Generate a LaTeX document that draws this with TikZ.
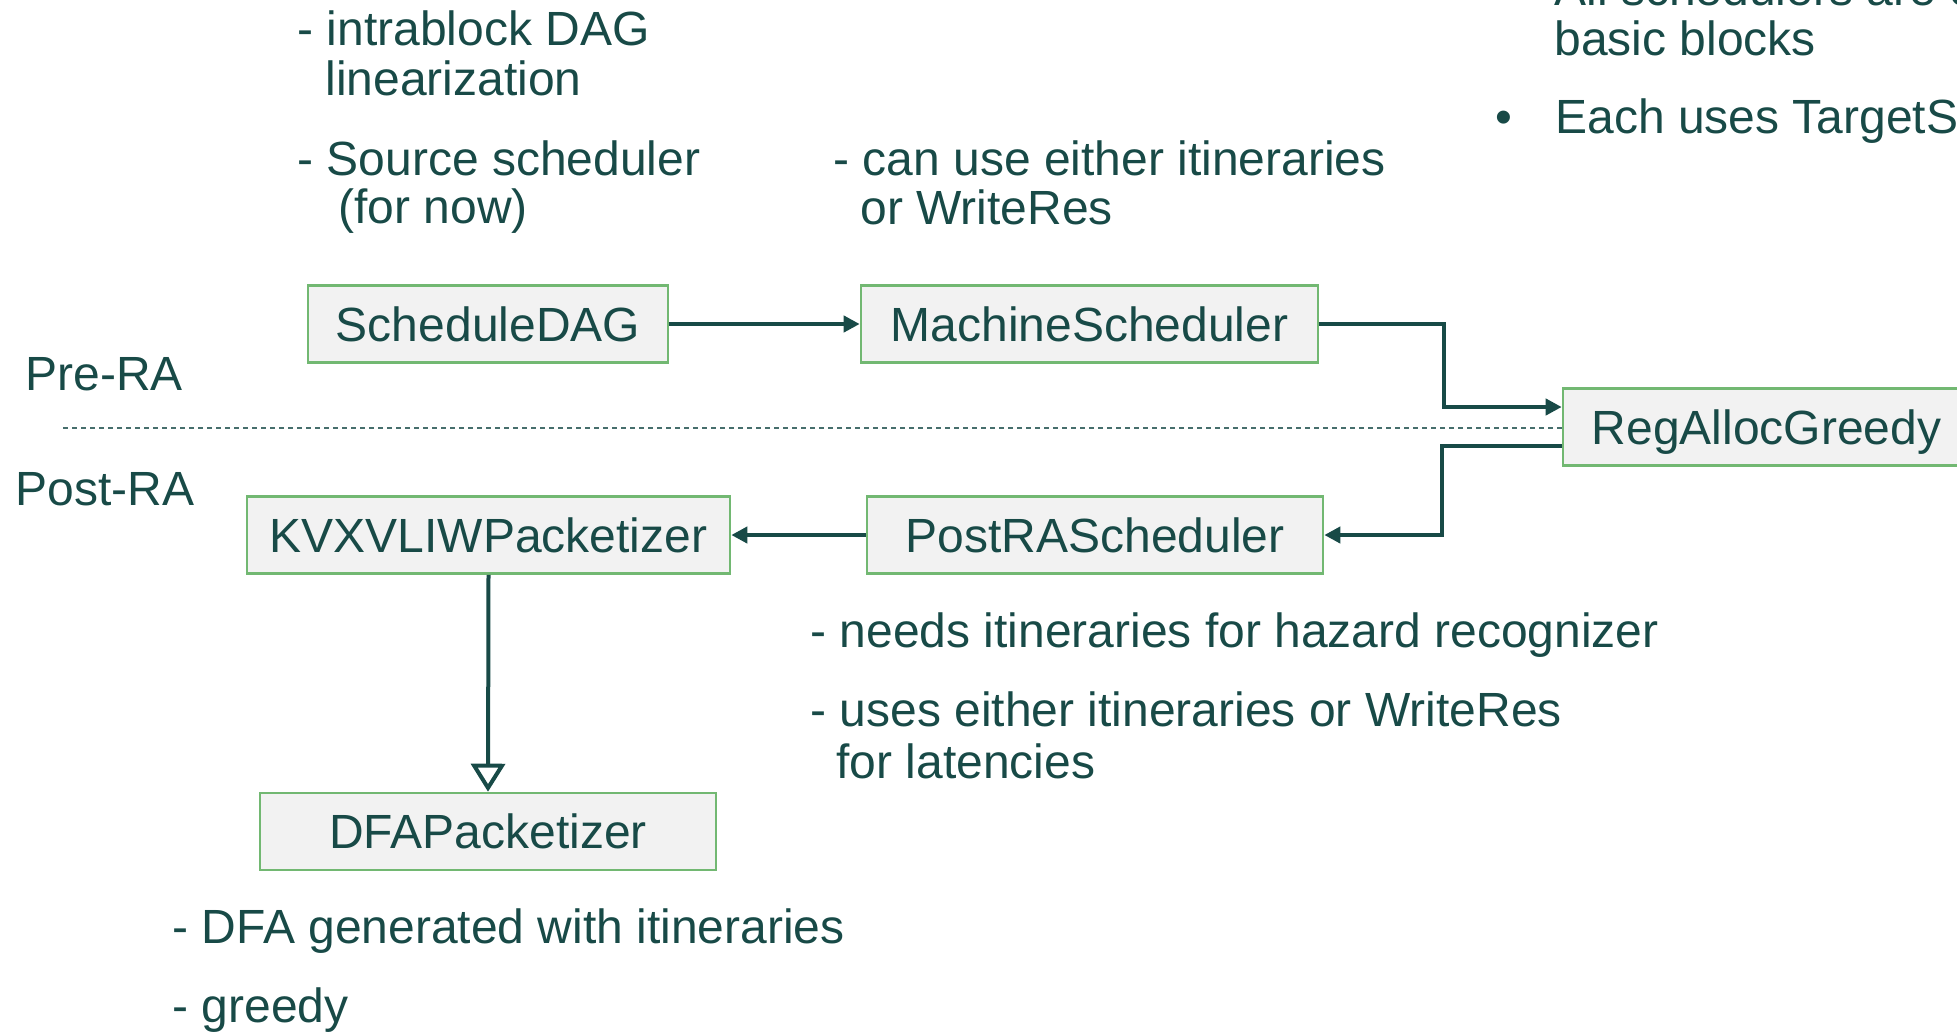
\documentclass[tikz,border=0pt]{standalone}
\usepackage{fontspec}
\setmainfont{Liberation Sans}
\usetikzlibrary{arrows.meta}
\definecolor{ink}{HTML}{184A47}
\definecolor{boxfill}{HTML}{F2F2F2}
\definecolor{boxline}{HTML}{72B872}
\begin{document}
\begin{tikzpicture}[x=0.5pt,y=-0.5pt,
  font=\fontsize{24}{29}\selectfont,
  box/.style={draw=boxline, line width=1.3pt, fill=boxfill, text=ink, inner sep=0pt,
              text height=17.2pt, text depth=0pt, minimum height=38.5pt},
  lbl/.style={anchor=base west, text=ink, inner sep=0pt},
  conn/.style={draw=ink, line width=2pt, -{Triangle[length=8pt,width=8pt]}},
  inh/.style={draw=ink, line width=2pt, -{Triangle[open,length=14pt,width=17pt,fill=white]}},
  sep/.style={draw=ink!80, line width=0.8pt, dash pattern=on 2.5pt off 2pt}]
\useasboundingbox (0,0) rectangle (1957,1034);
\clip (0,0) rectangle (1957,1034);

% text annotations
\node[lbl] (t1) at (297,45) {- intrablock DAG};
\node[lbl] (t2) at (325,95) {linearization};
\node[lbl] (t3) at (297,175) {- Source scheduler};
\node[lbl] (t4) at (338,223) {(for now)};
\node[lbl] (t5) at (833,175) {- can use either itineraries};
\node[lbl] (t6) at (860,224) {or WriteRes};
\node[lbl] (pre) at (25,390) {Pre-RA};
\node[lbl] (post) at (15,505) {Post-RA};
\node[lbl] (n1) at (810,647) {- needs itineraries for hazard recognizer};
\node[lbl] (n2) at (810,726) {- uses either itineraries or WriteRes};
\node[lbl] (n3) at (836,778) {for latencies};
\node[lbl] (d1) at (172,943) {- DFA generated with itineraries};
\node[lbl] (d2) at (172,1022) {- greedy};
\node[lbl] (b0) at (1495,5) {•};
\node[lbl] (r0) at (1554,5) {All schedulers are on};
\node[lbl] (r1) at (1554,55) {basic blocks};
\node[lbl] (b2) at (1495,133) {•};
\node[lbl] (r2) at (1555,133) {Each uses TargetSchedModel};

% boxes
\node[box, minimum width=203.5pt] (reg) at (1766.5,427) {RegAllocGreedy};
\node[box, minimum width=180pt] (sched) at (488,324) {ScheduleDAG};
\node[box, minimum width=228.5pt] (mach) at (1089.5,324) {MachineScheduler};
\node[box, minimum width=228pt] (postra) at (1095,535) {PostRAScheduler};
\node[box, minimum width=241.5pt] (kvx) at (488.5,535) {KVXVLIWPacketizer};
\node[box, minimum width=228pt] (dfa) at (488,831.5) {DFAPacketizer};

% separator
\coordinate (s0) at (63,428);
\draw[sep] (s0) -- (s0 -| reg.west);

% connectors
\coordinate (j1) at (1444,407);
\coordinate (j2) at (1442,446);
\coordinate (j3) at (1442,535);
\draw[conn] (sched.east) -- (mach.west);
\draw[conn] (mach.east) -| (j1) -- (j1 -| reg.west);
\draw[conn] (j2 -| reg.west) -- (j2) -- (j3) -- (postra.east);
\draw[conn] (postra.west) -- (kvx.east);
\draw[inh] (kvx.south) -- (dfa.north);
\end{tikzpicture}
\end{document}
